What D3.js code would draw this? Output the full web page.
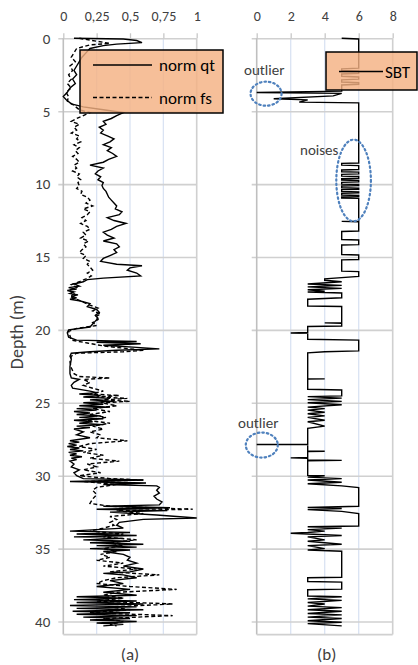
<!DOCTYPE html>
<html lang="en">
<head>
<meta charset="utf-8">
<title>CPT profiles</title>
<script src="https://cdnjs.cloudflare.com/ajax/libs/d3/7.8.5/d3.min.js"></script>
<style>
body { margin: 0; background: #fff; }
text { font-family: Carlito, Lato, "Open Sans", sans-serif; fill: #404040; }
.tick text { font-size: 14px; }
.domain { display: none; }
.tick line { stroke: #c8c8c8; stroke-width: 1.3px; }
.series { fill: none; stroke: #000; stroke-width: 1.4px; }
.note { stroke: #4f81bd; stroke-width: 2.2px; stroke-dasharray: 1.5,3; fill: none; stroke-linecap: round; }
</style>
</head>
<body>
<script>
// ---- data ----
var depthTicks = [0, 5, 10, 15, 20, 25, 30, 35, 40];
var normTicks = [0, 0.25, 0.5, 0.75, 1];
var normTickLabels = ["0", "0,25", "0,5", "0,75", "1"];
var sbtTicks = [0, 2, 4, 6, 8];

// [depth (m), normalised qt]
var normQt = [
[0,0.08],[0.05,0.45],[0.15,0.55],[0.3,0.59],[0.4,0.4],[0.5,0.3],[0.7,0.2],[1.0,0.17],[1.3,0.14],[1.6,0.12],
[1.9,0.1],[2.2,0.08],[2.5,0.1],[2.8,0.07],[3.1,0.09],[3.4,0.05],[3.7,0.03],[4.0,0.0],[4.2,0.02],[4.5,0.06],
[4.7,0.15],[4.9,0.3],[5.1,0.45],[5.3,0.4],[5.5,0.36],[5.7,0.3],[5.9,0.32],[6.1,0.27],[6.3,0.3],[6.5,0.28],
[6.7,0.33],[6.9,0.38],[7.1,0.35],[7.3,0.3],[7.5,0.36],[7.7,0.33],[7.9,0.37],[8.1,0.4],[8.3,0.34],[8.5,0.3],
[8.7,0.2],[8.9,0.3],[9.1,0.26],[9.3,0.24],[9.5,0.28],[9.7,0.26],[9.9,0.3],[10.1,0.29],[10.3,0.3],[10.5,0.32],
[10.7,0.33],[10.9,0.34],[11.1,0.36],[11.3,0.38],[11.5,0.4],[11.7,0.39],[11.9,0.44],[12.1,0.42],[12.3,0.33],[12.5,0.38],
[12.7,0.47],[12.9,0.4],[13.1,0.36],[13.3,0.3],[13.5,0.33],[13.7,0.38],[13.9,0.3],[14.1,0.4],[14.3,0.42],[14.5,0.38],
[14.7,0.4],[14.9,0.35],[15.1,0.3],[15.3,0.28],[15.5,0.4],[15.6,0.59],[15.75,0.5],[15.9,0.48],[16.1,0.55],[16.3,0.58],
[16.45,0.3],[16.55,0.18],[16.7,0.15],[16.85,0.08],[17.0,0.12],[17.1,0.04],[17.2,0.1],[17.3,0.03],[17.4,0.08],[17.5,0.05],
[17.6,0.11],[17.7,0.06],[17.8,0.1],[17.9,0.05],[18.0,0.12],[18.2,0.2],[18.4,0.18],[18.6,0.25],[18.8,0.27],[19.0,0.24],
[19.2,0.26],[19.4,0.24],[19.6,0.22],[19.8,0.2],[20.0,0.04],[20.2,0.03],[20.5,0.04],[20.7,0.1],[20.8,0.55],[20.85,0.25],
[20.95,0.58],[21.05,0.3],[21.2,0.55],[21.3,0.72],[21.4,0.4],[21.5,0.2],[21.6,0.06],[21.8,0.05],[22.0,0.06],[22.5,0.05],
[23.0,0.05],[23.3,0.06],[23.4,0.12],[23.6,0.08],[23.8,0.06],[24.0,0.07],[24.2,0.2],[24.3,0.25],[24.4,0.12],[24.5,0.28],
[24.6,0.15],[24.7,0.35],[24.8,0.2],[24.9,0.38],[25.0,0.15],[25.1,0.3],[25.2,0.12],[25.3,0.35],[25.4,0.1],[25.5,0.25],
[25.6,0.08],[25.7,0.2],[25.8,0.1],[25.9,0.28],[26.0,0.12],[26.1,0.3],[26.2,0.08],[26.3,0.22],[26.4,0.12],[26.5,0.3],
[26.6,0.1],[26.7,0.2],[26.8,0.08],[27.0,0.15],[27.2,0.1],[27.4,0.2],[27.6,0.05],[27.7,0.12],[27.8,0.04],[27.9,0.1],
[28.0,0.03],[28.1,0.12],[28.2,0.05],[28.3,0.15],[28.4,0.04],[28.5,0.1],[28.6,0.05],[28.7,0.14],[28.8,0.06],[28.9,0.1],
[29.0,0.05],[29.2,0.08],[29.4,0.06],[29.6,0.12],[29.8,0.08],[30.0,0.1],[30.2,0.15],[30.3,0.6],[30.4,0.05],[30.5,0.62],
[30.6,0.3],[30.7,0.7],[30.8,0.72],[31.0,0.7],[31.2,0.72],[31.4,0.68],[31.6,0.7],[31.8,0.74],[32.0,0.72],[32.1,0.3],
[32.2,0.8],[32.3,0.25],[32.4,0.78],[32.5,0.35],[32.7,0.7],[32.9,1.0],[33.0,0.6],[33.2,0.42],[33.4,0.4],[33.6,0.45],
[33.8,0.05],[33.9,0.5],[34.0,0.1],[34.1,0.55],[34.2,0.08],[34.3,0.45],[34.4,0.15],[34.5,0.5],[34.6,0.2],[34.7,0.6],
[34.8,0.25],[34.9,0.55],[35.0,0.2],[35.1,0.5],[35.2,0.3],[35.4,0.45],[35.6,0.5],[35.8,0.48],[36.0,0.55],[36.2,0.45],
[36.4,0.6],[36.6,0.5],[36.7,0.3],[36.8,0.45],[37.0,0.55],[37.2,0.35],[37.4,0.45],[37.6,0.25],[37.8,0.5],[38.0,0.3],
[38.2,0.55],[38.3,0.1],[38.4,0.45],[38.5,0.08],[38.6,0.55],[38.7,0.1],[38.8,0.6],[38.9,0.05],[39.0,0.55],[39.1,0.1],
[39.2,0.6],[39.3,0.07],[39.4,0.5],[39.5,0.1],[39.6,0.55],[39.7,0.15],[39.8,0.5],[39.9,0.2],[40.0,0.55],[40.1,0.25],
[40.2,0.45],[40.3,0.3]
];

// [depth (m), normalised fs]
var normFs = [
[0,0.12],[0.2,0.25],[0.35,0.35],[0.45,0.2],[0.7,0.1],[1.0,0.08],[1.3,0.06],[1.6,0.09],[1.9,0.05],[2.2,0.07],
[2.5,0.04],[2.8,0.06],[3.1,0.03],[3.4,0.06],[3.7,0.02],[4.0,0.04],[4.3,0.03],[4.6,0.08],[4.9,0.12],[5.1,0.2],
[5.3,0.15],[5.5,0.1],[5.7,0.06],[5.9,0.12],[6.1,0.08],[6.3,0.1],[6.5,0.06],[6.7,0.12],[6.9,0.1],[7.1,0.13],
[7.3,0.08],[7.5,0.12],[7.7,0.09],[7.9,0.11],[8.1,0.07],[8.3,0.1],[8.5,0.12],[8.7,0.08],[8.9,0.1],[9.1,0.07],
[9.3,0.12],[9.5,0.1],[9.7,0.13],[9.9,0.11],[10.1,0.12],[10.3,0.1],[10.5,0.14],[10.7,0.13],[10.9,0.18],[11.1,0.2],
[11.3,0.17],[11.5,0.22],[11.7,0.15],[11.9,0.2],[12.1,0.18],[12.3,0.14],[12.5,0.17],[12.7,0.13],[12.9,0.18],[13.1,0.2],
[13.3,0.15],[13.5,0.17],[13.7,0.13],[13.9,0.19],[14.1,0.15],[14.3,0.17],[14.5,0.14],[14.7,0.12],[14.9,0.17],[15.1,0.15],
[15.3,0.2],[15.5,0.18],[15.7,0.2],[15.9,0.22],[16.1,0.18],[16.3,0.21],[16.5,0.17],[16.7,0.12],[16.9,0.06],[17.1,0.1],
[17.3,0.04],[17.5,0.09],[17.7,0.05],[17.9,0.1],[18.1,0.15],[18.3,0.2],[18.5,0.26],[18.7,0.22],[18.9,0.28],[19.1,0.24],
[19.3,0.26],[19.5,0.22],[19.7,0.25],[19.9,0.1],[20.1,0.04],[20.4,0.05],[20.7,0.06],[20.9,0.18],[21.1,0.3],[21.3,0.5],
[21.4,0.6],[21.5,0.45],[21.6,0.1],[21.8,0.06],[22.2,0.05],[22.6,0.06],[23.0,0.08],[23.2,0.12],[23.3,0.35],[23.4,0.15],
[23.6,0.2],[23.8,0.15],[24.0,0.22],[24.2,0.3],[24.4,0.2],[24.5,0.42],[24.6,0.25],[24.7,0.48],[24.8,0.3],[24.9,0.5],
[25.0,0.28],[25.2,0.4],[25.4,0.22],[25.6,0.35],[25.8,0.2],[26.0,0.32],[26.2,0.18],[26.4,0.35],[26.6,0.22],[26.8,0.3],
[27.0,0.2],[27.2,0.28],[27.4,0.25],[27.6,0.48],[27.8,0.2],[28.0,0.12],[28.2,0.25],[28.4,0.15],[28.6,0.3],[28.8,0.2],
[29.0,0.42],[29.2,0.18],[29.4,0.25],[29.6,0.15],[29.8,0.28],[30.0,0.12],[30.2,0.35],[30.3,0.6],[30.4,0.15],[30.6,0.4],
[30.8,0.25],[31.0,0.22],[31.3,0.25],[31.6,0.22],[31.9,0.2],[32.1,0.35],[32.3,0.97],[32.4,0.4],[32.6,0.6],[32.8,0.35],
[33.0,0.4],[33.2,0.35],[33.4,0.38],[33.6,0.3],[33.8,0.2],[34.0,0.45],[34.2,0.3],[34.4,0.55],[34.6,0.35],[34.8,0.45],
[35.0,0.3],[35.2,0.4],[35.4,0.28],[35.6,0.35],[35.8,0.25],[36.0,0.45],[36.2,0.3],[36.4,0.55],[36.6,0.35],[36.8,0.72],
[37.0,0.4],[37.2,0.3],[37.4,0.25],[37.6,0.5],[37.8,0.85],[38.0,0.4],[38.2,0.3],[38.4,0.45],[38.6,0.25],[38.8,0.82],
[39.0,0.35],[39.2,0.5],[39.4,0.2],[39.6,0.82],[39.8,0.3],[40.0,0.45],[40.2,0.35],[40.3,0.4]
];

// [depth (m), SBT zone]
var sbt = [
[0,5],[0.05,6],[2.05,6],[2.1,5],[2.2,5],[2.25,6],[2.4,6],[2.45,5],[2.6,5],[2.65,6],[2.8,6],[2.85,5],[3.0,5],[3.05,6],
[3.15,6],[3.2,5],[3.62,5],[3.72,0],[3.78,5],[3.95,4.5],[4.15,1],[4.22,3],[4.38,2.5],[4.43,6],
[8.55,6],[8.58,5],[8.7,5],[8.73,6],[9.0,6],[9.03,5],[9.15,5],[9.18,6],[9.3,6],[9.33,5],[9.45,5],[9.48,6],[9.6,6],[9.63,5],
[9.72,5],[9.75,6],[9.85,6],[9.88,5],[10.0,5],[10.03,6],[10.1,6],[10.13,5],[10.25,5],[10.28,6],[10.35,6],[10.38,5],[10.5,5],
[10.53,6],[10.6,6],[10.63,5],[10.75,5],[10.78,6],[10.85,6],[10.88,5],[10.95,5],[10.98,6],
[12.54,6],[12.56,5],[12.58,6],[13.22,6],[13.25,5],[13.8,5],[13.83,6],[14.15,6],[14.18,5],[14.83,5],[14.86,6],
[15.17,6],[15.2,5],[15.97,5],[16.0,6],[16.33,6],[16.5,4],[16.6,4],[16.7,5],[16.85,3],[16.95,5],[17.05,3],[17.15,5],
[17.25,3],[17.35,4],[17.4,3],[17.47,5],[17.8,5],[17.9,3],[18.36,3],[18.4,5],[19.5,5],[19.52,4],[19.55,5],[19.73,5],
[19.77,3],[20.18,3],[20.21,2],[20.24,3],[20.64,3],[20.7,6],[21.44,6],[21.5,4],[21.58,3],[23.34,3],[23.36,4],[23.38,3],
[24.07,3],[24.12,5],[24.53,5],[24.58,3],[24.68,5],[24.78,3],[24.9,5],[25.0,3],[25.13,5],[25.3,3],[25.4,4],[25.5,3],
[25.65,4],[25.75,3],[25.9,4],[26.0,3],[26.2,4],[26.3,3],[26.6,4],[26.75,3],[27.84,3],[27.86,0],[27.88,3],[28.3,3],
[28.32,4],[28.34,3],[28.75,3],[28.78,2],[28.81,3],[28.92,3],[28.95,5],[28.98,3],[29.98,3],[30.0,4],[30.1,3],[30.2,5],
[30.3,3],[30.45,5],[30.55,3],[30.7,5],[30.82,6],[32.1,6],[32.18,3],[32.25,5],[32.33,3],[32.45,5],[32.6,6],[33.45,6],
[33.5,3],[33.6,5],[33.7,3],[33.8,4],[33.9,3],[33.95,2],[34.0,3],[34.1,5],[34.2,3],[34.4,4],[34.5,3],[34.7,5],[34.8,3],
[35.0,4],[35.1,3],[35.18,5],[36.97,5],[37.0,3],[37.26,3],[37.3,5],[37.78,5],[37.82,3],[38.25,3],[38.3,5],[38.45,3],
[38.55,5],[38.7,3],[38.8,4],[38.95,3],[39.05,5],[39.2,3],[39.3,5],[39.45,3],[39.55,5],[39.7,3],[39.8,5],[39.95,3],
[40.05,5],[40.15,3],[40.3,5]
];

// ---- layout ----
var w = 418,
    h = 665;
var plotTop = 38.3,
    plotBottom = 634.6;
var panelA = {x0: 63.3, x1: 196.7},
    panelB = {x0: 256.7, x1: 392.7};

var svg = d3.select("body")
    .append("svg")
    .attr("width", w)
    .attr("height", h);

var yScale = d3.scaleLinear().domain([0, 40.9]).range([plotTop, plotBottom]);
var xA = d3.scaleLinear().domain([0, 1]).range([panelA.x0, panelA.x1]);
var xB = d3.scaleLinear().domain([0, 8]).range([panelB.x0, panelB.x1]);

function drawFrame(x, ticks, labels, showDepth) {
    var g = svg.append("g");
    var x0 = x.range()[0], x1 = x.range()[1];

    // vertical light-blue gridlines
    g.selectAll(".vgrid")
        .data(ticks.slice(1, -1))
        .enter().append("line")
        .attr("x1", d => x(d)).attr("x2", d => x(d))
        .attr("y1", plotTop).attr("y2", plotBottom)
        .style("stroke", "#dae3f3").style("stroke-width", 1.3);

    // horizontal gridlines with outside tick marks
    g.append("g")
        .attr("transform", "translate(" + x0 + ",0)")
        .call(d3.axisLeft(yScale).tickValues(depthTicks)
            .tickSize(-(x1 - x0)).tickPadding(13)
            .tickFormat(showDepth ? d3.format("d") : ""))
        .call(a => a.selectAll(".tick line").attr("x1", -5).style("stroke", "#d0d0d0").style("stroke-width", 1.6))
        .call(a => a.selectAll(".tick text").style("font-size", "15px"));

    // frame: left axis, right and bottom border
    g.append("line").attr("x1", x0).attr("x2", x0).attr("y1", plotTop).attr("y2", plotBottom)
        .style("stroke", "#bfbfbf").style("stroke-width", 1.6);
    g.append("line").attr("x1", x1).attr("x2", x1).attr("y1", plotTop).attr("y2", plotBottom)
        .style("stroke", "#d0d0d0").style("stroke-width", 1.6);
    g.append("line").attr("x1", x0).attr("x2", x1).attr("y1", plotBottom).attr("y2", plotBottom)
        .style("stroke", "#d0d0d0").style("stroke-width", 1.6);

    // top axis
    g.append("g")
        .attr("transform", "translate(0," + plotTop + ")")
        .call(d3.axisTop(x).tickValues(ticks).tickSize(5).tickPadding(12)
            .tickFormat((d, i) => labels[i]));
    return g;
}

drawFrame(xA, normTicks, normTickLabels, true);
drawFrame(xB, sbtTicks, sbtTicks.map(String), false);

// ---- series ----
var lineA = d3.line().x(d => xA(d[1])).y(d => yScale(d[0]));
var lineB = d3.line().x(d => xB(d[1])).y(d => yScale(d[0]));

svg.append("path").datum(normFs).attr("class", "series")
    .attr("d", lineA).style("stroke-dasharray", "4,2.5");
svg.append("path").datum(normQt).attr("class", "series")
    .attr("d", lineA);
svg.append("path").datum(sbt).attr("class", "series")
    .attr("d", lineB);

// ---- legends (semi transparent boxes) ----
var legA = svg.append("g");
legA.append("rect").attr("x", 80).attr("y", 50).attr("width", 143).attr("height", 63)
    .style("fill", "#f4b183").style("fill-opacity", 0.82)
    .style("stroke", "#000").style("stroke-width", 1.5);
legA.append("line").attr("x1", 93).attr("x2", 152).attr("y1", 65).attr("y2", 65)
    .attr("class", "series");
legA.append("line").attr("x1", 93).attr("x2", 152).attr("y1", 97.5).attr("y2", 97.5)
    .attr("class", "series").style("stroke-dasharray", "4,2.5");
legA.append("text").attr("x", 159).attr("y", 71).text("norm qt")
    .style("font-size", "17px").style("fill", "#000");
legA.append("text").attr("x", 159).attr("y", 103.5).text("norm fs")
    .style("font-size", "17px").style("fill", "#000");

var legB = svg.append("g");
legB.append("rect").attr("x", 326).attr("y", 52).attr("width", 91).attr("height", 38)
    .style("fill", "#f4b183").style("fill-opacity", 0.82)
    .style("stroke", "#000").style("stroke-width", 1.5);
legB.append("line").attr("x1", 339).attr("x2", 383).attr("y1", 71.5).attr("y2", 71.5)
    .attr("class", "series");
legB.append("text").attr("x", 385).attr("y", 77.5).text("SBT")
    .style("font-size", "17px").style("fill", "#000");

// ---- annotations ----
svg.append("text").attr("x", 244).attr("y", 75).text("outlier").style("font-size", "15px");
svg.append("ellipse").attr("class", "note")
    .attr("cx", xB(0.55)).attr("cy", yScale(3.8)).attr("rx", 15.5).attr("ry", 12);
svg.append("text").attr("x", 238).attr("y", 428).text("outlier").style("font-size", "15px");
svg.append("ellipse").attr("class", "note")
    .attr("cx", xB(0.3)).attr("cy", yScale(27.9)).attr("rx", 16).attr("ry", 12.5);
svg.append("text").attr("x", 300).attr("y", 155).text("noises").style("font-size", "15px");
svg.append("ellipse").attr("class", "note")
    .attr("cx", xB(5.7)).attr("cy", yScale(9.75)).attr("rx", 17.3).attr("ry", 40.8);

// ---- titles ----
svg.append("text")
    .attr("transform", "translate(23," + 332 + ") rotate(-90)")
    .attr("text-anchor", "middle")
    .text("Depth (m)").style("font-size", "18px");
svg.append("text").attr("x", 130).attr("y", 660).attr("text-anchor", "middle")
    .text("(a)").style("font-size", "17px");
svg.append("text").attr("x", 326.7).attr("y", 660).attr("text-anchor", "middle")
    .text("(b)").style("font-size", "17px");
</script>
</body>
</html>
